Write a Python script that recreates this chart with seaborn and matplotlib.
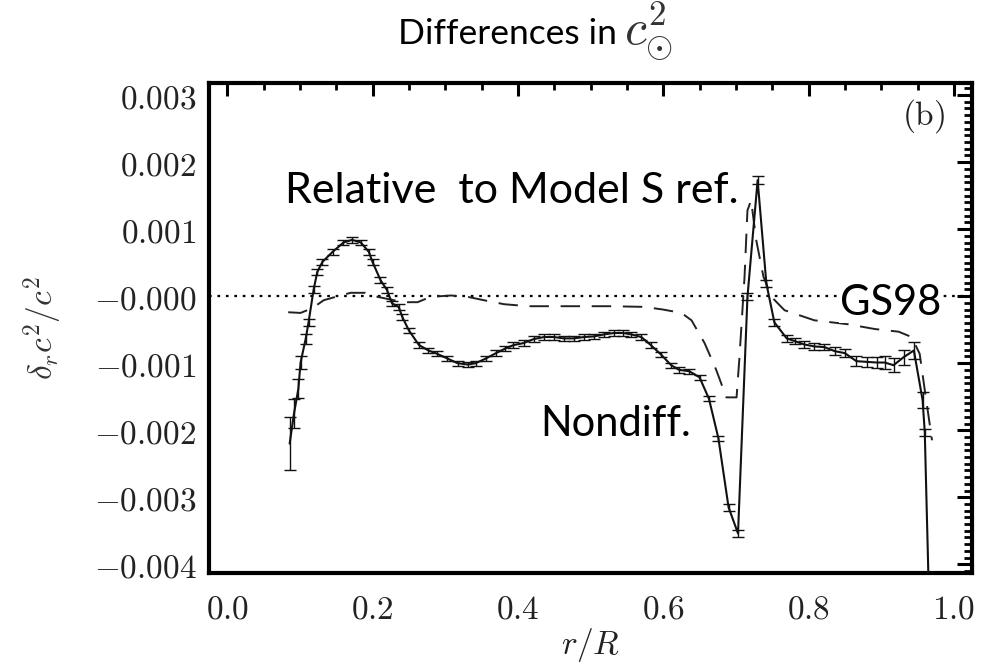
import numpy as np
import pandas as pd
import matplotlib
matplotlib.use("Agg")
import matplotlib.pyplot as plt
from matplotlib.ticker import FixedLocator, FixedFormatter, MultipleLocator
import seaborn as sns

# ---- data ----
nd_r = [0.086, 0.092, 0.098, 0.101, 0.108, 0.112, 0.119, 0.124, 0.131, 0.145, 0.160,
        0.172, 0.184, 0.195, 0.200, 0.211, 0.220, 0.227, 0.236, 0.241, 0.250, 0.264,
        0.277, 0.289, 0.303, 0.317, 0.331, 0.342, 0.356, 0.370, 0.383, 0.394, 0.408,
        0.422, 0.436, 0.450, 0.463, 0.477, 0.491, 0.505, 0.519, 0.532, 0.545, 0.556,
        0.570, 0.583, 0.597, 0.611, 0.622, 0.636, 0.650, 0.663, 0.676, 0.690, 0.703,
        0.716, 0.730, 0.742, 0.753, 0.770, 0.781, 0.794, 0.808, 0.822, 0.836, 0.850,
        0.866, 0.880, 0.894, 0.905, 0.917, 0.931, 0.945, 0.957, 0.960, 0.966]
nd_val = [-2.20, -1.75, -1.38, -0.99, -0.64, -0.39, 0.10, 0.36, 0.51, 0.66, 0.80,
          0.84, 0.80, 0.66, 0.51, 0.24, 0.09, -0.11, -0.16, -0.31, -0.51, -0.73,
          -0.81, -0.86, -0.93, -1.00, -1.02, -1.00, -0.93, -0.85, -0.78, -0.73, -0.70,
          -0.64, -0.61, -0.61, -0.63, -0.63, -0.61, -0.60, -0.57, -0.55, -0.55, -0.57,
          -0.61, -0.73, -0.87, -1.03, -1.10, -1.12, -1.21, -1.53, -2.12, -3.15, -3.54,
          -0.01, 1.73, 0.19, -0.39, -0.63, -0.67, -0.72, -0.75, -0.76, -0.82, -0.85,
          -0.97, -0.98, -0.99, -0.99, -1.03, -0.91, -0.81, -1.55, -2.03, -4.60]
nd_err = [0.40, 0.22, 0.14, 0.10, 0.07, 0.05, 0.05, 0.04, 0.04, 0.04, 0.04,
          0.04, 0.04, 0.04, 0.04, 0.04, 0.04, 0.04, 0.04, 0.04, 0.04, 0.04,
          0.04, 0.04, 0.04, 0.04, 0.04, 0.04, 0.04, 0.04, 0.04, 0.04, 0.04,
          0.04, 0.04, 0.04, 0.04, 0.04, 0.04, 0.04, 0.04, 0.04, 0.04, 0.04,
          0.04, 0.04, 0.04, 0.04, 0.04, 0.04, 0.04, 0.04, 0.04, 0.05, 0.05,
          0.05, 0.06, 0.05, 0.05, 0.05, 0.05, 0.05, 0.05, 0.05, 0.06, 0.06,
          0.07, 0.07, 0.08, 0.09, 0.10, 0.11, 0.13, 0.12, 0.05, 0.0]

gs_r = [0.084, 0.101, 0.117, 0.133, 0.156, 0.170, 0.190, 0.207, 0.220, 0.243, 0.262,
        0.280, 0.308, 0.331, 0.353, 0.381, 0.414, 0.469, 0.528, 0.574, 0.600, 0.625,
        0.639, 0.657, 0.673, 0.687, 0.701, 0.705, 0.712, 0.716, 0.721, 0.728, 0.738,
        0.749, 0.767, 0.808, 0.855, 0.891, 0.924, 0.942, 0.953, 0.960, 0.970]
gs_val = [-0.24, -0.25, -0.18, -0.06, 0.01, 0.05, 0.05, -0.01, -0.04, -0.09, -0.09,
          -0.01, 0.01, -0.01, -0.06, -0.12, -0.15, -0.15, -0.15, -0.16, -0.20, -0.25,
          -0.36, -0.70, -1.10, -1.51, -1.51, -0.91, 0.29, 1.28, 1.43, 0.84, 0.29,
          -0.01, -0.21, -0.36, -0.42, -0.49, -0.53, -0.61, -0.86, -1.40, -2.15]

yticks = [0.003, 0.002, 0.001, 0.0, -0.001, -0.002, -0.003, -0.004]
ytick_labels = ["0.003", "0.002", "0.001", "-0.000", "-0.001", "-0.002", "-0.003", "-0.004"]
xticks = [0.0, 0.2, 0.4, 0.6, 0.8, 1.0]
xtick_labels = ["0.0", "0.2", "0.4", "0.6", "0.8", "1.0"]

nd = pd.DataFrame({"r": nd_r, "v": np.array(nd_val) * 1e-3, "e": np.array(nd_err) * 1e-3})
gs = pd.DataFrame({"r": gs_r, "v": np.array(gs_val) * 1e-3})

# ---- figure ----
sns.set_style("white")
plt.rcParams["mathtext.fontset"] = "cm"
W, H = 982, 669
fig = plt.figure(figsize=(W / 100, H / 100), dpi=100)
ax = fig.add_axes([209 / W, 1 - 573 / H, (972 - 209) / W, (573 - 83) / H])

ax.axhline(0, color="black", lw=1.6, ls=(0, (1.2, 2.6)), zorder=1)
sns.lineplot(data=gs, x="r", y="v", ax=ax, color="#222222", lw=1.4,
             estimator=None, sort=False, zorder=2)
ax.lines[-1].set_dashes([10, 6])
sns.lineplot(data=nd, x="r", y="v", ax=ax, color="#111111", lw=1.5,
             estimator=None, sort=False, zorder=3)
m = nd["e"] > 0
ax.errorbar(nd["r"][m], nd["v"][m], yerr=nd["e"][m], fmt="none", ecolor="#111111",
            elinewidth=1.0, capsize=4, capthick=1.0, zorder=3)

ax.set_xlim(-0.025, 1.025)
ax.set_ylim(-0.00413, 0.00318)
ax.xaxis.set_major_locator(FixedLocator(xticks))
ax.xaxis.set_major_formatter(FixedFormatter([r"$%s$" % s for s in xtick_labels]))
ax.xaxis.set_minor_locator(MultipleLocator(0.05))
ax.yaxis.set_major_locator(FixedLocator(yticks))
ax.yaxis.set_major_formatter(FixedFormatter([r"$%s$" % s for s in ytick_labels]))
ax.yaxis.set_minor_locator(MultipleLocator(0.0001))
ax.tick_params(which="both", direction="in", top=True, right=True, colors="black",
               labelcolor="#222222")
ax.tick_params(which="major", length=11, width=2.2, labelsize=24, pad=9)
ax.tick_params(which="minor", length=6, width=2.0)
ax.tick_params(axis="x", which="major", length=9, pad=14)
ax.tick_params(axis="x", which="minor", length=5)
for s in ax.spines.values():
    s.set_linewidth(3)
    s.set_color("black")
ax.set_xlabel("")
ax.set_ylabel("")

fig.text(590 / W, 1 - 645 / H, r"$r/R$", ha="center", va="center", fontsize=24, color="#222222")
fig.text(43 / W, 1 - 328 / H, r"$\delta_r c^2/c^2$", ha="center", va="center",
         fontsize=24, rotation=90, color="#333333")

fig.text(398 / W, 1 - 44 / H, "Differences in", fontfamily="Lato", fontsize=25.5,
         ha="left", va="baseline", color="black")
fig.text(624 / W, 1 - 44 / H, r"$c_{\odot}^{\mathbf{2}}$", fontsize=36,
         ha="left", va="baseline", color="#333333")

fig.text(285 / W, 1 - 203 / H, "Relative  to Model S ref.", fontfamily="Lato", fontsize=31,
         ha="left", va="baseline", color="black")
fig.text(540 / W, 1 - 436 / H, "Nondiff.", fontfamily="Lato", fontsize=30,
         ha="left", va="baseline", color="black")
fig.text(840 / W, 1 - 315 / H, "GS98", fontfamily="Lato", fontsize=30,
         ha="left", va="baseline", color="black",
         bbox=dict(facecolor="white", edgecolor="none", pad=0.5))
fig.text(945 / W, 1 - 125 / H, r"$\mathrm{(b)}$", fontsize=24, ha="right", va="baseline",
         color="#222222")

fig.savefig("out.png", dpi=100)
